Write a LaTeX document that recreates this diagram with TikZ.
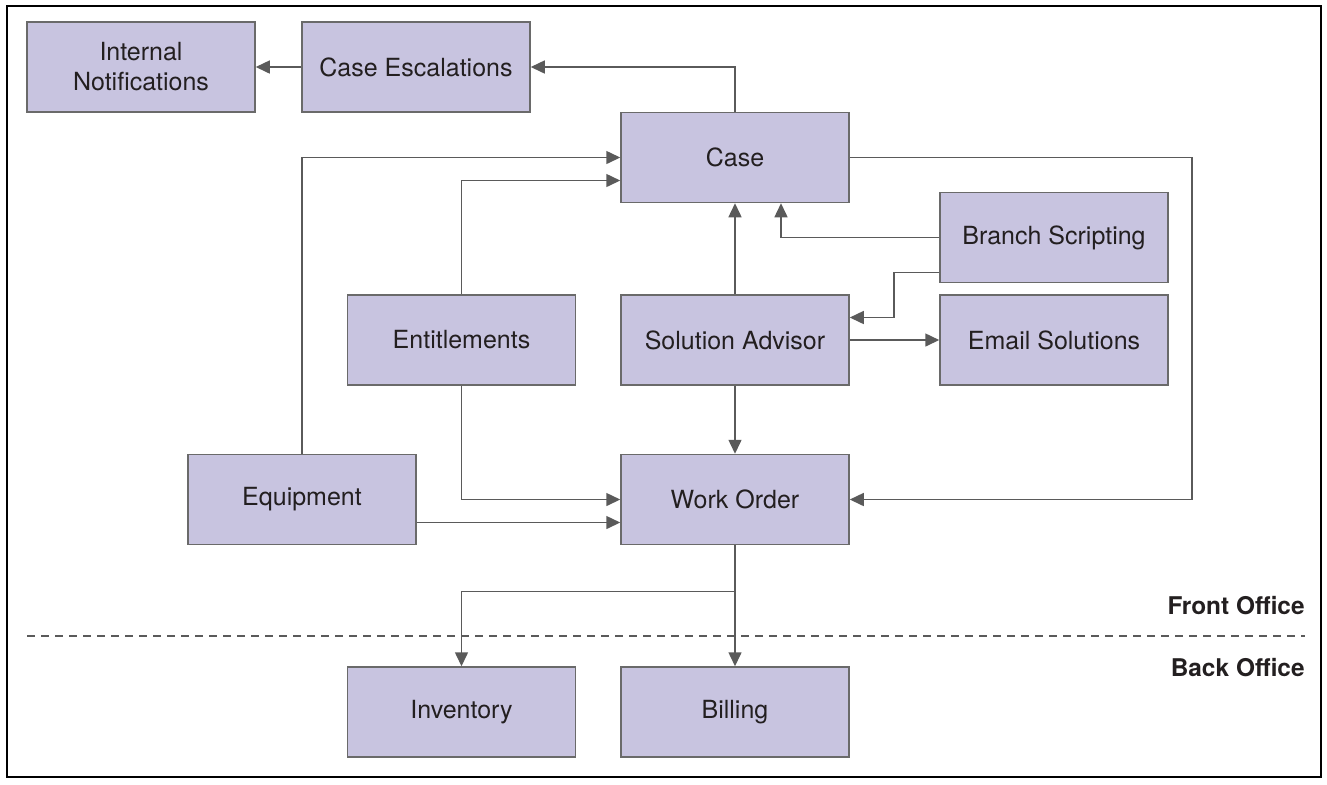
\documentclass[tikz,border=0pt]{standalone}
\usepackage{fontspec}
\setmainfont{TeX Gyre Heros}
\usetikzlibrary{arrows.meta,calc}
\definecolor{boxfill}{HTML}{C8C4E0}
\definecolor{boxline}{HTML}{6A6A6A}
\definecolor{wire}{HTML}{5A5A5A}
\definecolor{ink}{HTML}{231F20}
\begin{document}
\begin{tikzpicture}[x=0.5pt,y=-0.5pt,
  box/.style={draw=boxline, fill=boxfill, line width=0.75pt,
    minimum width=114pt, minimum height=45pt, inner sep=0pt,
    align=center, text=ink, font=\fontsize{12.5}{15}\selectfont},
  link/.style={draw=wire, line width=0.75pt,
    -{Triangle[length=7pt,width=6.5pt]}},
  zone/.style={anchor=east, inner sep=0pt, text=ink,
    font=\fontsize{12.2}{14}\selectfont\bfseries},
]
\useasboundingbox (0,0) rectangle (1327,784);
\draw[line width=1pt] (7,6) rectangle (1321,777);

% boxes
\node[box] (notif)   at (141,67)    {Internal\\Notifications};
\node[box] (escal)   at (416,67)    {Case Escalations};
\node[box] (case)    at (735,157.5) {Case};
\node[box] (branch)  at (1054,237.5){Branch Scripting};
\node[box] (advisor) at (735,340)   {Solution Advisor};
\node[box] (email)   at (1054,340)  {Email Solutions};
\node[box] (entitle) at (461.5,340) {Entitlements};
\node[box] (equip)   at (302,499.5) {Equipment};
\node[box] (work)    at (735,499.5) {Work Order};
\node[box] (inv)     at (461.5,712) {Inventory};
\node[box] (bill)    at (735,712)   {Billing};

% front / back office divider
\draw[wire, line width=0.6pt, dash pattern=on 4pt off 3pt] (27,636) -- (1305,636);
\node[zone] (front) at (1305,606) {Front Office};
\node[zone] (back)  at (1305,668) {Back Office};

% connectors
\draw[link] (escal.west) -- (notif.east);
\draw[link] (case.north) |- (escal.east);
\draw[link] (equip.north) |- (case.west);
\draw[link] (entitle.north) |- ($(case.west)+(0,23)$);
\draw[link] (advisor.north) -- (case.south);
\draw[link] (branch.west) -| ($(case.south)+(46,0)$);
\coordinate (bsl) at ($(branch.south west)+(0,-11)$);
\draw[link] (bsl) -- ++(-45.5,0) |- ($(advisor.east)+(0,-22.5)$);
\draw[link] (advisor.east) -- (email.west);
\draw[link] (advisor.south) -- (work.north);
\coordinate (loop) at ($(case.east)+(342,0)$);
\draw[link] (case.east) -- (loop) |- (work.east);
\draw[link] (entitle.south) |- (work.west);
\draw[link] ($(equip.east)+(0,23)$) -- ($(work.west)+(0,23)$);
\draw[link] (work.south) -- (bill.north);
\draw[link] ($(work.south)+(0,46)$) -| (inv.north);
\end{tikzpicture}
\end{document}
